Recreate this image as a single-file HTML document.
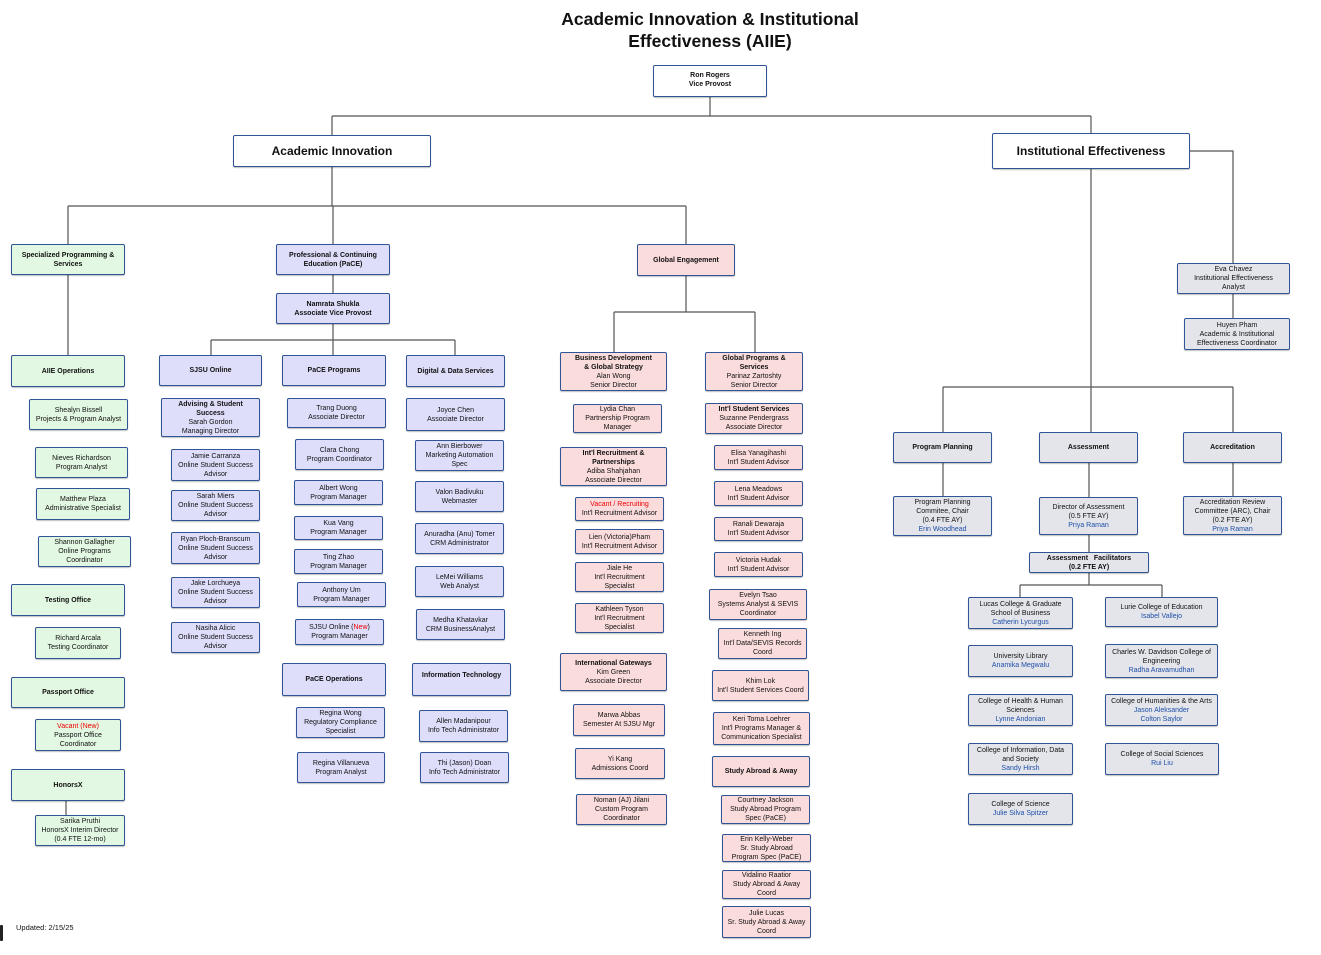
<!DOCTYPE html>
<html><head><meta charset="utf-8">
<style>
*{margin:0;padding:0;box-sizing:border-box}
body{width:1321px;height:955px;background:#fff;position:relative;overflow:hidden;font-family:"Liberation Sans",Arial,sans-serif;color:#111}
.b{position:absolute;border:1px solid #2f5597;border-radius:2px;display:flex;align-items:center;justify-content:center;text-align:center;font-size:7px;line-height:9px;box-shadow:0 1px 1px rgba(0,0,0,.25)}
.w{background:#fff;border-width:1.5px}
.g{background:#e2f8e2}
.l{background:#dedefb}
.p{background:#fbdcdc}
.y{background:#e3e5ea}
b{font-weight:bold}
.r{color:#e00}
.bl{color:#1f4fa8}
svg{position:absolute;left:0;top:0}
</style></head><body>
<svg width="1321" height="955" fill="none" stroke="#555" stroke-width="1.2">
<path d="M710 97V116M332 116H1091M332 116V135M1091 116V133"/>
<path d="M332 167V206M68 206H686M68 206V244M333 206V244M686 206V244"/>
<path d="M68 275V355M333 275V293M333 324V340M211 340H455M211 340V355M333 340V355M455 340V355"/>
<path d="M686 276V312M614 312H755M614 312V352M755 312V352"/>
<path d="M66 801V815"/>
<path d="M1190 151H1233V263M1233 294V318" />
<path d="M1091 169V432M943 387H1233M943 387V432M1233 387V432"/>
<path d="M943 463V496M1089 463V497M1233 463V496M1089 535V552M1089 573V585M1020 585H1162M1020 585V597M1162 585V597"/>
</svg>
<div style="position:absolute;left:460px;top:8px;width:500px;text-align:center;font-weight:bold;font-size:17.5px;line-height:22px">Academic Innovation &amp; Institutional<br>Effectiveness (AIIE)</div>

<div class="b w" style="left:653px;top:65px;width:114px;height:32px;align-items:flex-start;padding-top:5px"><b>Ron Rogers<br>Vice Provost</b></div>
<div class="b w" style="left:233px;top:135px;width:198px;height:32px;font-size:12px;line-height:14px"><b>Academic Innovation</b></div>
<div class="b w" style="left:992px;top:133px;width:198px;height:36px;font-size:12px;line-height:14px"><b>Institutional Effectiveness</b></div>

<div class="b g" style="left:11px;top:244px;width:114px;height:31px"><b>Specialized Programming &amp;<br>Services</b></div>
<div class="b l" style="left:276px;top:244px;width:114px;height:31px"><b>Professional &amp; Continuing<br>Education (PaCE)</b></div>
<div class="b l" style="left:276px;top:293px;width:114px;height:31px"><b>Namrata Shukla<br>Associate Vice Provost</b></div>
<div class="b p" style="left:637px;top:244px;width:98px;height:32px"><b>Global Engagement</b></div>

<!-- left green -->
<div class="b g" style="left:11px;top:355px;width:114px;height:32px"><b>AIIE Operations</b></div>
<div class="b g" style="left:29px;top:399px;width:99px;height:31px">Shealyn Bissell<br>Projects &amp; Program Analyst</div>
<div class="b g" style="left:35px;top:447px;width:93px;height:31px">Nieves Richardson<br>Program Analyst</div>
<div class="b g" style="left:36px;top:488px;width:94px;height:32px">Matthew Plaza<br>Administrative Specialist</div>
<div class="b g" style="left:38px;top:536px;width:93px;height:31px">Shannon Gallagher<br>Online Programs<br>Coordinator</div>
<div class="b g" style="left:11px;top:584px;width:114px;height:32px"><b>Testing Office</b></div>
<div class="b g" style="left:35px;top:627px;width:86px;height:32px">Richard Arcala<br>Testing Coordinator</div>
<div class="b g" style="left:11px;top:677px;width:114px;height:31px"><b>Passport Office</b></div>
<div class="b g" style="left:35px;top:719px;width:86px;height:32px"><span><span class="r">Vacant (New)</span><br>Passport Office<br>Coordinator</span></div>
<div class="b g" style="left:11px;top:769px;width:114px;height:32px"><b>HonorsX</b></div>
<div class="b g" style="left:35px;top:815px;width:90px;height:31px">Sarika Pruthi<br>HonorsX Interim Director<br>(0.4 FTE 12-mo)</div>

<!-- SJSU Online -->
<div class="b l" style="left:159px;top:355px;width:103px;height:31px"><b>SJSU Online</b></div>
<div class="b l" style="left:161px;top:398px;width:99px;height:39px"><span><b>Advising &amp; Student<br>Success</b><br>Sarah Gordon<br>Managing Director</span></div>
<div class="b l" style="left:171px;top:449px;width:89px;height:32px">Jamie Carranza<br>Online Student Success<br>Advisor</div>
<div class="b l" style="left:171px;top:490px;width:89px;height:31px">Sarah Miers<br>Online Student Success<br>Advisor</div>
<div class="b l" style="left:171px;top:532px;width:89px;height:32px">Ryan Ploch-Branscum<br>Online Student Success<br>Advisor</div>
<div class="b l" style="left:171px;top:577px;width:89px;height:31px">Jake Lorchueya<br>Online Student Success<br>Advisor</div>
<div class="b l" style="left:171px;top:622px;width:89px;height:31px">Nasiha Alicic<br>Online Student Success<br>Advisor</div>

<!-- PaCE Programs -->
<div class="b l" style="left:282px;top:355px;width:104px;height:31px"><b>PaCE Programs</b></div>
<div class="b l" style="left:287px;top:398px;width:99px;height:30px">Trang Duong<br>Associate Director</div>
<div class="b l" style="left:295px;top:439px;width:89px;height:31px">Clara Chong<br>Program Coordinator</div>
<div class="b l" style="left:294px;top:480px;width:89px;height:25px">Albert Wong<br>Program Manager</div>
<div class="b l" style="left:294px;top:516px;width:89px;height:24px">Kua Vang<br>Program Manager</div>
<div class="b l" style="left:294px;top:549px;width:89px;height:25px">Ting Zhao<br>Program Manager</div>
<div class="b l" style="left:297px;top:582px;width:89px;height:25px">Anthony Um<br>Program Manager</div>
<div class="b l" style="left:295px;top:619px;width:89px;height:26px"><span>SJSU Online (<span class="r">New</span>)<br>Program Manager</span></div>
<div class="b l" style="left:282px;top:663px;width:104px;height:33px"><b>PaCE Operations</b></div>
<div class="b l" style="left:296px;top:707px;width:89px;height:31px">Regina Wong<br>Regulatory Compliance<br>Specialist</div>
<div class="b l" style="left:297px;top:752px;width:88px;height:31px">Regina Villanueva<br>Program Analyst</div>

<!-- Digital -->
<div class="b l" style="left:406px;top:355px;width:99px;height:32px"><b>Digital &amp; Data Services</b></div>
<div class="b l" style="left:406px;top:398px;width:99px;height:33px">Joyce Chen<br>Associate Director</div>
<div class="b l" style="left:415px;top:440px;width:89px;height:31px">Ann Bierbower<br>Marketing Automation<br>Spec</div>
<div class="b l" style="left:415px;top:481px;width:89px;height:31px">Valon Badivuku<br>Webmaster</div>
<div class="b l" style="left:415px;top:523px;width:89px;height:31px">Anuradha (Anu) Tomer<br>CRM Administrator</div>
<div class="b l" style="left:415px;top:566px;width:89px;height:31px">LeMei Williams<br>Web Analyst</div>
<div class="b l" style="left:416px;top:609px;width:89px;height:31px">Medha Khatavkar<br>CRM BusinessAnalyst</div>
<div class="b l" style="left:412px;top:663px;width:99px;height:33px;align-items:flex-start;padding-top:7px"><b>Information Technology</b></div>
<div class="b l" style="left:419px;top:710px;width:89px;height:32px">Allen Madanipour<br>Info Tech Administrator</div>
<div class="b l" style="left:420px;top:752px;width:89px;height:31px">Thi (Jason) Doan<br>Info Tech Administrator</div>

<!-- Global left -->
<div class="b p" style="left:560px;top:352px;width:107px;height:39px"><span><b>Business Development<br>&amp; Global Strategy</b><br>Alan Wong<br>Senior Director</span></div>
<div class="b p" style="left:573px;top:404px;width:89px;height:29px">Lydia Chan<br>Partnership Program<br>Manager</div>
<div class="b p" style="left:560px;top:447px;width:107px;height:39px"><span><b>Int'l Recruitment &amp;<br>Partnerships</b><br>Adiba Shahjahan<br>Associate Director</span></div>
<div class="b p" style="left:575px;top:497px;width:89px;height:24px"><span><span class="r">Vacant / Recruiting</span><br>Int'l Recruitment Advisor</span></div>
<div class="b p" style="left:575px;top:529px;width:89px;height:25px">Lien (Victoria)Pham<br>Int'l Recruitment Advisor</div>
<div class="b p" style="left:575px;top:562px;width:89px;height:30px">Jiale He<br>Int'l Recruitment<br>Specialist</div>
<div class="b p" style="left:575px;top:603px;width:89px;height:30px">Kathleen Tyson<br>Int'l Recruitment<br>Specialist</div>
<div class="b p" style="left:560px;top:653px;width:107px;height:38px"><span><b>International Gateways</b><br>Kim Green<br>Associate Director</span></div>
<div class="b p" style="left:573px;top:704px;width:92px;height:32px">Marwa Abbas<br>Semester At SJSU Mgr</div>
<div class="b p" style="left:575px;top:748px;width:90px;height:31px">Yi Kang<br>Admissions Coord</div>
<div class="b p" style="left:576px;top:794px;width:91px;height:31px">Noman (AJ) Jilani<br>Custom Program<br>Coordinator</div>

<!-- Global right -->
<div class="b p" style="left:705px;top:352px;width:98px;height:39px"><span><b>Global Programs &amp;<br>Services</b><br>Parinaz Zartoshty<br>Senior Director</span></div>
<div class="b p" style="left:705px;top:403px;width:98px;height:31px"><span><b>Int'l Student Services</b><br>Suzanne Pendergrass<br>Associate Director</span></div>
<div class="b p" style="left:714px;top:445px;width:89px;height:25px">Elisa Yanagihashi<br>Int'l Student Advisor</div>
<div class="b p" style="left:714px;top:481px;width:89px;height:25px">Lena Meadows<br>Int'l Student Advisor</div>
<div class="b p" style="left:714px;top:517px;width:89px;height:24px">Ranali Dewaraja<br>Int'l Student Advisor</div>
<div class="b p" style="left:714px;top:552px;width:89px;height:25px">Victoria Hudak<br>Int'l Student Advisor</div>
<div class="b p" style="left:709px;top:589px;width:98px;height:31px">Evelyn Tsao<br>Systems Analyst &amp; SEVIS<br>Coordinator</div>
<div class="b p" style="left:718px;top:628px;width:89px;height:31px">Kenneth Ing<br>Int'l Data/SEVIS Records<br>Coord</div>
<div class="b p" style="left:712px;top:670px;width:97px;height:31px">Khim Lok<br>Int'l Student Services Coord</div>
<div class="b p" style="left:713px;top:712px;width:97px;height:33px">Keri Toma Loehrer<br>Int'l Programs Manager &amp;<br>Communication Specialist</div>
<div class="b p" style="left:712px;top:756px;width:98px;height:31px"><b>Study Abroad &amp; Away</b></div>
<div class="b p" style="left:721px;top:795px;width:89px;height:29px">Courtney Jackson<br>Study Abroad Program<br>Spec (PaCE)</div>
<div class="b p" style="left:722px;top:834px;width:89px;height:28px">Erin Kelly-Weber<br>Sr. Study Abroad<br>Program Spec (PaCE)</div>
<div class="b p" style="left:722px;top:870px;width:89px;height:29px">Vidalino Raatior<br>Study Abroad &amp; Away<br>Coord</div>
<div class="b p" style="left:722px;top:906px;width:89px;height:32px">Julie Lucas<br>Sr. Study Abroad &amp; Away<br>Coord</div>

<!-- IE -->
<div class="b y" style="left:1177px;top:263px;width:113px;height:31px">Eva Chavez<br>Institutional Effectiveness<br>Analyst</div>
<div class="b y" style="left:1184px;top:318px;width:106px;height:32px">Huyen Pham<br>Academic &amp; Institutional<br>Effectiveness Coordinator</div>
<div class="b y" style="left:893px;top:432px;width:99px;height:31px"><b>Program Planning</b></div>
<div class="b y" style="left:1039px;top:432px;width:99px;height:31px"><b>Assessment</b></div>
<div class="b y" style="left:1183px;top:432px;width:99px;height:31px"><b>Accreditation</b></div>
<div class="b y" style="left:893px;top:496px;width:99px;height:40px"><span>Program Planning<br>Commitee, Chair<br>(0.4 FTE AY)<br><span class="bl">Erin Woodhead</span></span></div>
<div class="b y" style="left:1039px;top:497px;width:99px;height:38px"><span>Director of Assessment<br>(0.5 FTE AY)<br><span class="bl">Priya Raman</span></span></div>
<div class="b y" style="left:1183px;top:496px;width:99px;height:39px"><span>Accreditation Review<br>Committee (ARC), Chair<br>(0.2 FTE AY)<br><span class="bl">Priya Raman</span></span></div>
<div class="b y" style="left:1029px;top:552px;width:120px;height:21px"><b>Assessment &nbsp; Facilitators<br>(0.2 FTE AY)</b></div>
<div class="b y" style="left:968px;top:597px;width:105px;height:32px"><span>Lucas College &amp; Graduate<br>School of Business<br><span class="bl">Catherin Lycurgus</span></span></div>
<div class="b y" style="left:1105px;top:597px;width:113px;height:30px"><span>Lurie College of Education<br><span class="bl">Isabel Vallejo</span></span></div>
<div class="b y" style="left:968px;top:645px;width:105px;height:32px"><span>University Library<br><span class="bl">Anamika Megwalu</span></span></div>
<div class="b y" style="left:1105px;top:644px;width:113px;height:34px"><span>Charles W. Davidson College of<br>Engineering<br><span class="bl">Radha Aravamudhan</span></span></div>
<div class="b y" style="left:968px;top:694px;width:105px;height:32px"><span>College of Health &amp; Human<br>Sciences<br><span class="bl">Lynne Andonian</span></span></div>
<div class="b y" style="left:1105px;top:694px;width:113px;height:32px"><span>College of Humanities &amp; the Arts<br><span class="bl">Jason Aleksander<br>Colton Saylor</span></span></div>
<div class="b y" style="left:968px;top:743px;width:105px;height:32px"><span>College of Information, Data<br>and Society<br><span class="bl">Sandy Hirsh</span></span></div>
<div class="b y" style="left:1105px;top:743px;width:114px;height:32px"><span>College of Social Sciences<br><span class="bl">Rui Liu</span></span></div>
<div class="b y" style="left:968px;top:793px;width:105px;height:32px"><span>College of Science<br><span class="bl">Julie Silva Spitzer</span></span></div>

<div style="position:absolute;left:0;top:925px;width:3px;height:16px;background:#222;border-radius:1px"></div>
<div style="position:absolute;left:16px;top:923px;font-size:7.5px">Updated: 2/15/25</div>
</body></html>
